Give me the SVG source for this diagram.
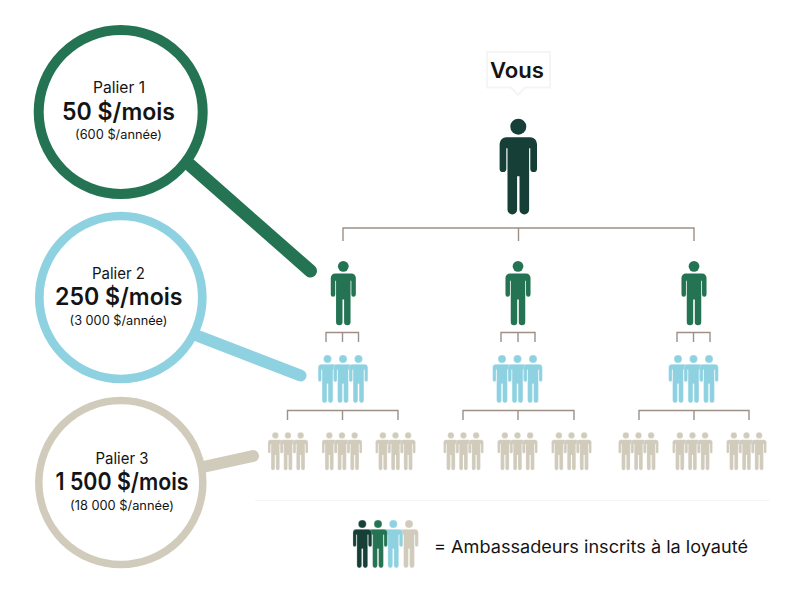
<svg xmlns="http://www.w3.org/2000/svg" xmlns:xlink="http://www.w3.org/1999/xlink" width="800" height="615" viewBox="0 0 800 615">
<style>
text{font-family:"Inter","Liberation Sans",sans-serif;fill:#141414}
.t1{font-size:15.5px}.t2{font-size:24px;font-weight:600}.t3{font-size:12.5px}
.br{fill:none;stroke:#9c9087;stroke-width:1.4}
.ring{fill:#fff}
.h{stroke-linecap:round;fill:none}
.dark{fill:#163f38}.green{fill:#247353}.blue{fill:#8ed1e1}.beige{fill:#d1cbbc}
.s{stroke:#fff;stroke-width:.5}
</style>
<defs>
<g id="p"><circle cx="0" cy="8" r="8"/><path d="M-12 18.6H12A6.7 6.7 0 0 1 18.7 25.3V50A3.35 3.35 0 0 1 12 50V29.5H10.8V91A4.5 4.5 0 0 1 1.2 91V57.5H-1.2V91A4.5 4.5 0 0 1 -10.8 91V29.5H-12V50A3.35 3.35 0 0 1 -18.7 50V25.3A6.7 6.7 0 0 1 -12 18.6Z"/></g>
<g id="b3"><use xlink:href="#p" href="#p" x="-31"/><use xlink:href="#p" href="#p" x="0"/><use xlink:href="#p" href="#p" x="31"/></g>
<g id="c3"><use xlink:href="#p" href="#p" x="-32"/><use xlink:href="#p" href="#p" x="0"/><use xlink:href="#p" href="#p" x="32"/></g>
</defs>
<rect width="800" height="615" fill="#fff"/>
<g id="connectors">
<path class="br" d="M343 241V228H694V241M518.500 228V241"/>
<path class="br" d="M326 342V332.500H358.500V342M342.500 332.500V342"/>
<path class="br" d="M501 342V332.500H535V342M518 332.500V342"/>
<path class="br" d="M677 342V332.500H710V342M693.500 332.500V342"/>
<path class="br" d="M287.500 420V410.500H398V420M342.500 410.500V420"/>
<path class="br" d="M463 420V410.500H574V420M518 410.500V420"/>
<path class="br" d="M639 420V410.500H749V420M694 410.500V420"/>
<path class="h" stroke="#247353" stroke-width="13" d="M190 165L310.500 271"/>
<path class="h" stroke="#8ed1e1" stroke-width="12" d="M198 336L300.500 375.500"/>
<path class="h" stroke="#d1cbbc" stroke-width="12" d="M203 467L253 456"/>
<path d="M255 500.500H770" stroke="#f5f5f3" stroke-width="1" fill="none"/>
</g>
<g id="tier1"><circle class="ring" cx="120.700" cy="112" r="82" stroke="#247353" stroke-width="10"/><text class="t1" x="93" y="93" textLength="52" lengthAdjust="spacingAndGlyphs">Palier 1</text><text class="t2" x="62" y="120" textLength="113" lengthAdjust="spacingAndGlyphs">50 $/mois</text><text class="t3" x="75" y="139" textLength="87" lengthAdjust="spacingAndGlyphs">(600 $/année)</text></g>
<g id="tier2"><circle class="ring" cx="120.800" cy="297.500" r="81.500" stroke="#8ed1e1" stroke-width="8.700"/><text class="t1" x="92" y="279" textLength="53" lengthAdjust="spacingAndGlyphs">Palier 2</text><text class="t2" x="55" y="305" textLength="127.500" lengthAdjust="spacingAndGlyphs">250 $/mois</text><text class="t3" x="69.500" y="325" textLength="98" lengthAdjust="spacingAndGlyphs">(3 000 $/année)</text></g>
<g id="tier3"><circle class="ring" cx="120.800" cy="482.500" r="82" stroke="#d1cbbc" stroke-width="7.500"/><text class="t1" x="95.500" y="464" textLength="53" lengthAdjust="spacingAndGlyphs">Palier 3</text><text class="t2" x="55.500" y="490" textLength="133" lengthAdjust="spacingAndGlyphs">1 500 $/mois</text><text class="t3" x="70" y="510" textLength="104" lengthAdjust="spacingAndGlyphs">(18 000 $/année)</text></g>
<g id="vous"><path d="M487 52H550V87.500H525L518 95L511 87.500H487Z" fill="#fff" stroke="#f3f6f5" stroke-width="2"/><text x="490" y="78" style="font-size:22px;font-weight:600" textLength="54" lengthAdjust="spacingAndGlyphs">Vous</text></g>
<g id="you" class="dark"><use xlink:href="#p" href="#p" transform="translate(518.300 118.700)"/></g>
<g id="level1" class="green">
<use xlink:href="#p" href="#p" transform="translate(343.300 261) scale(.67)"/>
<use xlink:href="#p" href="#p" transform="translate(518 261) scale(.67)"/>
<use xlink:href="#p" href="#p" transform="translate(694 261) scale(.67)"/>
</g>
<g id="level2" class="blue s">
<use xlink:href="#b3" href="#b3" transform="translate(343 355) scale(.5)"/>
<use xlink:href="#b3" href="#b3" transform="translate(517.500 355) scale(.5)"/>
<use xlink:href="#b3" href="#b3" transform="translate(693.500 355) scale(.5)"/>
</g>
<g id="level3" class="beige s">
<use xlink:href="#c3" href="#c3" transform="translate(288 432.300) scale(.395)"/>
<use xlink:href="#c3" href="#c3" transform="translate(342 432.300) scale(.395)"/>
<use xlink:href="#c3" href="#c3" transform="translate(395.500 432.300) scale(.395)"/>
<use xlink:href="#c3" href="#c3" transform="translate(463.500 432.300) scale(.395)"/>
<use xlink:href="#c3" href="#c3" transform="translate(517.500 432.300) scale(.395)"/>
<use xlink:href="#c3" href="#c3" transform="translate(571.500 432.300) scale(.395)"/>
<use xlink:href="#c3" href="#c3" transform="translate(638.500 432.300) scale(.395)"/>
<use xlink:href="#c3" href="#c3" transform="translate(692.500 432.300) scale(.395)"/>
<use xlink:href="#c3" href="#c3" transform="translate(746.500 432.300) scale(.395)"/>
</g>
<g id="legend" class="s">
<use class="beige" xlink:href="#p" href="#p" transform="translate(409 520) scale(.5)"/>
<use class="blue" xlink:href="#p" href="#p" transform="translate(393.300 520) scale(.5)"/>
<use class="green" xlink:href="#p" href="#p" transform="translate(378 520) scale(.5)"/>
<use class="dark" xlink:href="#p" href="#p" transform="translate(362.300 520) scale(.5)"/>
<text x="434" y="553" style="font-size:17px;stroke:none" textLength="314" lengthAdjust="spacingAndGlyphs">= Ambassadeurs inscrits à la loyauté</text>
</g>
</svg>
